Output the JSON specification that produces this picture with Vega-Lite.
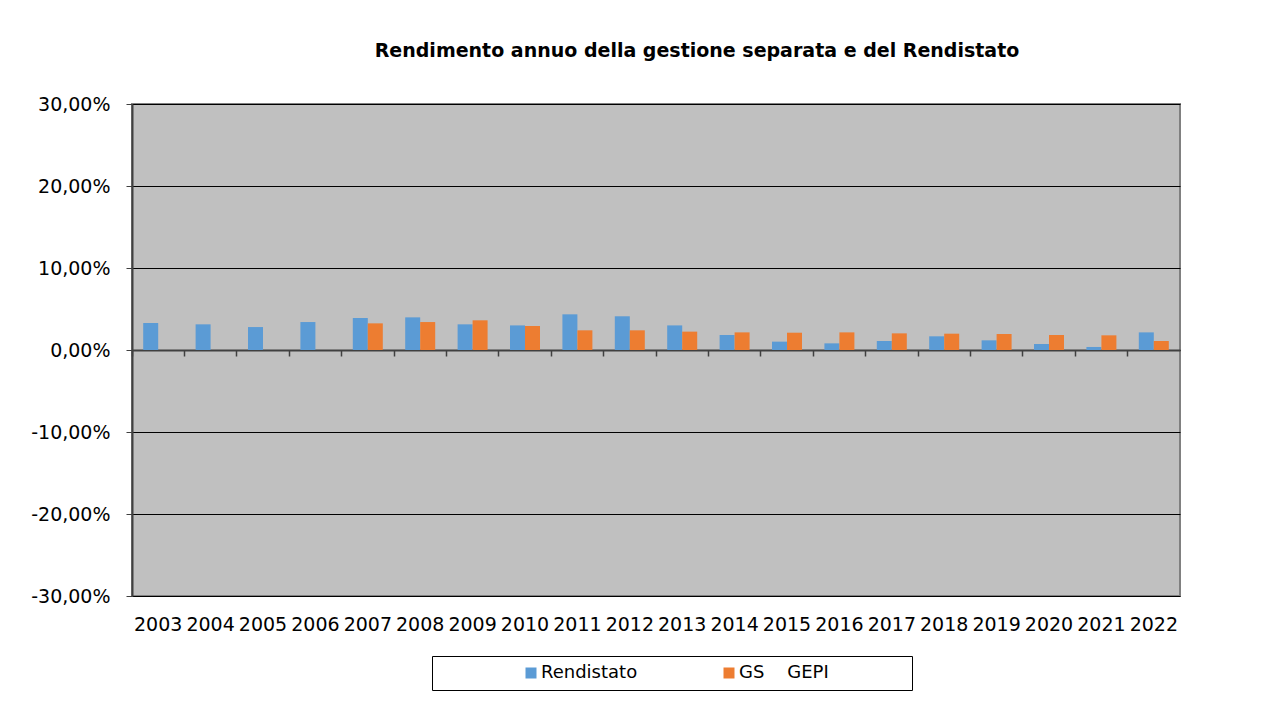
{
  "$schema": "https://vega.github.io/schema/vega-lite/v6.json",
  "width": 1048,
  "height": 492,
  "autosize": {"type": "none"},
  "padding": {"left": 132, "top": 104, "right": 104, "bottom": 110},
  "background": "white",
  "title": {
    "text": "Rendimento annuo della gestione separata e del Rendistato",
    "font": "DejaVu Sans",
    "fontSize": 19,
    "fontWeight": "bold",
    "color": "#000000",
    "anchor": "middle",
    "frame": "group",
    "dx": 41,
    "offset": 34
  },
  "config": {
    "locale": {"number": {"decimal": ",", "thousands": ".", "grouping": [3], "currency": ["€", ""], "minus": "-"}},
    "view": {"fill": "#C0C0C0", "stroke": "#808080", "strokeWidth": 2},
    "font": "DejaVu Sans"
  },
  "data": {
    "values": [
      {"anno": "2003", "serie": "Rendistato", "valore": 0.0329},
      {"anno": "2004", "serie": "Rendistato", "valore": 0.0313},
      {"anno": "2005", "serie": "Rendistato", "valore": 0.0280},
      {"anno": "2006", "serie": "Rendistato", "valore": 0.0341},
      {"anno": "2007", "serie": "Rendistato", "valore": 0.0390},
      {"anno": "2007", "serie": "GS\u00a0\u00a0\u00a0\u00a0GEPI", "valore": 0.0325},
      {"anno": "2008", "serie": "Rendistato", "valore": 0.0398},
      {"anno": "2008", "serie": "GS\u00a0\u00a0\u00a0\u00a0GEPI", "valore": 0.0341},
      {"anno": "2009", "serie": "Rendistato", "valore": 0.0313},
      {"anno": "2009", "serie": "GS\u00a0\u00a0\u00a0\u00a0GEPI", "valore": 0.0362},
      {"anno": "2010", "serie": "Rendistato", "valore": 0.0300},
      {"anno": "2010", "serie": "GS\u00a0\u00a0\u00a0\u00a0GEPI", "valore": 0.0293},
      {"anno": "2011", "serie": "Rendistato", "valore": 0.0435},
      {"anno": "2011", "serie": "GS\u00a0\u00a0\u00a0\u00a0GEPI", "valore": 0.0240},
      {"anno": "2012", "serie": "Rendistato", "valore": 0.0411},
      {"anno": "2012", "serie": "GS\u00a0\u00a0\u00a0\u00a0GEPI", "valore": 0.0240},
      {"anno": "2013", "serie": "Rendistato", "valore": 0.0300},
      {"anno": "2013", "serie": "GS\u00a0\u00a0\u00a0\u00a0GEPI", "valore": 0.0224},
      {"anno": "2014", "serie": "Rendistato", "valore": 0.0183},
      {"anno": "2014", "serie": "GS\u00a0\u00a0\u00a0\u00a0GEPI", "valore": 0.0215},
      {"anno": "2015", "serie": "Rendistato", "valore": 0.0102},
      {"anno": "2015", "serie": "GS\u00a0\u00a0\u00a0\u00a0GEPI", "valore": 0.0211},
      {"anno": "2016", "serie": "Rendistato", "valore": 0.0081},
      {"anno": "2016", "serie": "GS\u00a0\u00a0\u00a0\u00a0GEPI", "valore": 0.0215},
      {"anno": "2017", "serie": "Rendistato", "valore": 0.0110},
      {"anno": "2017", "serie": "GS\u00a0\u00a0\u00a0\u00a0GEPI", "valore": 0.0203},
      {"anno": "2018", "serie": "Rendistato", "valore": 0.0167},
      {"anno": "2018", "serie": "GS\u00a0\u00a0\u00a0\u00a0GEPI", "valore": 0.0199},
      {"anno": "2019", "serie": "Rendistato", "valore": 0.0118},
      {"anno": "2019", "serie": "GS\u00a0\u00a0\u00a0\u00a0GEPI", "valore": 0.0195},
      {"anno": "2020", "serie": "Rendistato", "valore": 0.0073},
      {"anno": "2020", "serie": "GS\u00a0\u00a0\u00a0\u00a0GEPI", "valore": 0.0183},
      {"anno": "2021", "serie": "Rendistato", "valore": 0.0037},
      {"anno": "2021", "serie": "GS\u00a0\u00a0\u00a0\u00a0GEPI", "valore": 0.0179},
      {"anno": "2022", "serie": "Rendistato", "valore": 0.0215},
      {"anno": "2022", "serie": "GS\u00a0\u00a0\u00a0\u00a0GEPI", "valore": 0.0110}
    ]
  },
  "resolve": {"axis": {"x": "independent"}},
  "layer": [
    {
      "mark": {"type": "bar", "clip": true},
      "encoding": {
        "x": {
          "field": "anno",
          "type": "nominal",
          "sort": null,
          "scale": {"paddingInner": 0, "paddingOuter": 0},
          "axis": {
            "title": null,
            "orient": "bottom",
            "domain": false,
            "ticks": false,
            "labelAngle": 0,
            "labelFont": "DejaVu Sans",
            "labelFontSize": 19,
            "labelColor": "#000000",
            "labelPadding": 19,
            "labelLimit": 0
          }
        },
        "xOffset": {
          "field": "serie",
          "type": "nominal",
          "sort": ["Rendistato", "GS\u00a0\u00a0\u00a0\u00a0GEPI"],
          "scale": {"paddingInner": 0, "paddingOuter": 0.747}
        },
        "y": {
          "field": "valore",
          "type": "quantitative",
          "scale": {"domain": [-0.3, 0.3], "nice": false, "zero": false},
          "axis": {
            "title": null,
            "format": ".2%",
            "values": [-0.3, -0.2, -0.1, 0, 0.1, 0.2, 0.3],
            "grid": true,
            "gridColor": "#000000",
            "gridWidth": 1,
            "gridOpacity": 1,
            "domain": true,
            "domainColor": "#404040",
            "domainWidth": 2,
            "ticks": true,
            "tickColor": "#404040",
            "tickSize": 6,
            "labelFont": "DejaVu Sans",
            "labelFontSize": 19,
            "labelColor": "#000000",
            "labelPadding": 16
          }
        },
        "color": {
          "field": "serie",
          "type": "nominal",
          "sort": ["Rendistato", "GS\u00a0\u00a0\u00a0\u00a0GEPI"],
          "scale": {"domain": ["Rendistato", "GS\u00a0\u00a0\u00a0\u00a0GEPI"], "range": ["#5B9BD5", "#ED7D31"]},
          "legend": {
            "title": null,
            "orient": "none",
            "legendX": 300,
            "legendY": 552,
            "direction": "horizontal",
            "symbolType": "square",
            "symbolSize": 121,
            "symbolStrokeWidth": 0,
            "symbolOffset": 82,
            "labelFont": "DejaVu Sans",
            "labelFontSize": 18,
            "labelColor": "#000000",
            "labelOffset": 1,
            "columnPadding": 0,
            "padding": 8,
            "strokeColor": "#000000",
            "fillColor": "#FFFFFF",
            "labelLimit": 0,
            "labelExpr": "datum.label == 'Rendistato' ? datum.label : datum.label + '\u00a0\u00a0\u00a0\u00a0\u00a0\u00a0\u00a0\u00a0\u00a0\u00a0\u00a0\u00a0\u00a0\u200b'"
          }
        }
      }
    },
    {
      "mark": {"type": "rule", "color": "#404040", "strokeWidth": 1},
      "encoding": {
        "x": {
          "field": "anno",
          "type": "nominal",
          "sort": null,
          "scale": {"paddingInner": 0, "paddingOuter": 0},
          "axis": {
            "title": null,
            "orient": "bottom",
            "offset": -246,
            "labels": false,
            "bandPosition": 0,
            "domain": true,
            "domainColor": "#404040",
            "domainWidth": 2,
            "ticks": true,
            "tickColor": "#404040",
            "tickSize": 6,
            "tickWidth": 1.5
          }
        },
        "y": {"datum": 0},
        "y2": {"datum": 0}
      }
    }
  ]
}
